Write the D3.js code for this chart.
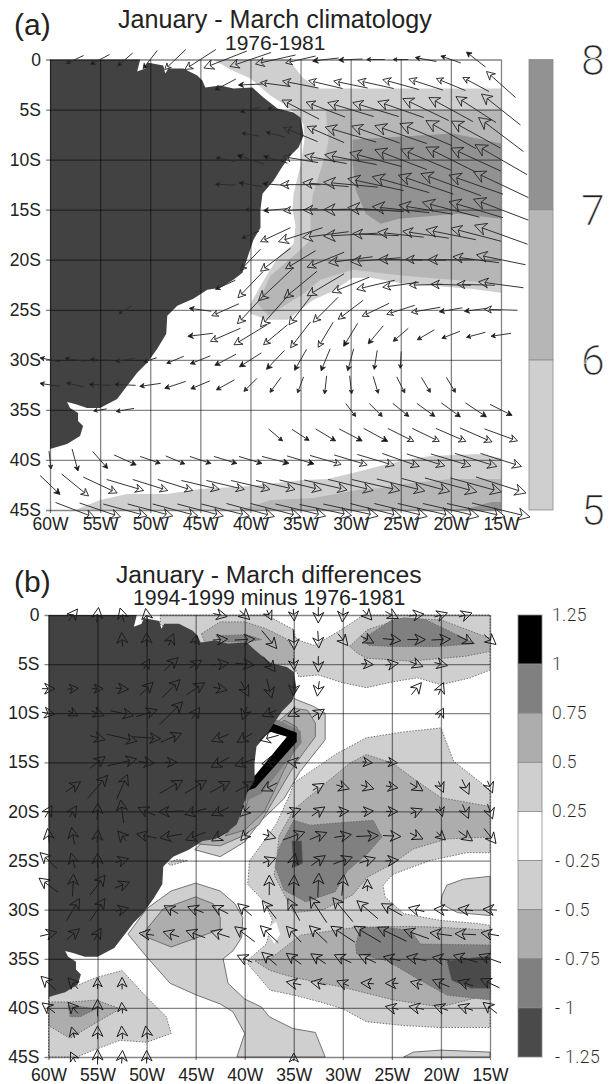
<!DOCTYPE html>
<html>
<head>
<meta charset="utf-8">
<script src="https://cdn.jsdelivr.net/npm/d3@7"></script>
<style>
  html, body { margin: 0; padding: 0; background: #fff; }
  svg { display: block; }
  text { font-family: "Liberation Sans", Arial, sans-serif; fill: #222; }
  .thin { font-family: Roboto, "Open Sans", sans-serif; font-weight: 300; fill: #222; stroke: #fff; }
</style>
</head>
<body>
<svg id="chart" width="614" height="1084"></svg>
<script>
// grid of the wind arrows
var windLats = [0, 2.5, 5, 7.5, 10, 12.5, 15, 17.5, 20, 22.5, 25, 27.5, 30, 32.5, 35, 37.5, 40, 42.5, 45];
var windLons = [60, 57.5, 55, 52.5, 50, 47.5, 45, 42.5, 40, 37.5, 35, 32.5, 30, 27.5, 25, 22.5, 20, 17.5, 15];
var tickLons = [60, 55, 50, 45, 40, 35, 30, 25, 20, 15];
var tickLats = [0, 5, 10, 15, 20, 25, 30, 35, 40, 45];

// one row per latitude, each arrow is [column, u, v]
var windA = [
  [[1,-17,-8],[2,-19,-10],[3,-15,-13],[4,-14,-18],[5,-21,-20],[6,-31,-20],[7,-43,-17],[8,-41,-14],[9,-40,-9],[10,-30,-7],[11,-26,-3],[12,-24,-1],[13,-18,0],[14,-15,0],[15,-21,4],[16,-20,7],[17,-19,15]],
  [[7,-21,-11],[8,-24,-1],[9,-30,4],[10,-36,7],[11,-34,8],[12,-34,7],[13,-36,8],[14,-36,10],[15,-34,11],[16,-29,12],[17,-26,14],[18,-29,26]],
  [[8,-20,-5],[9,-15,3],[10,-37,19],[11,-39,15],[12,-46,14],[13,-46,14],[14,-46,16],[15,-46,22],[16,-44,24],[17,-40,26],[18,-39,31]],
  [[8,-17,3],[9,-19,5],[10,-34,14],[11,-37,16],[12,-51,15],[13,-48,17],[14,-52,18],[15,-52,22],[16,-50,28],[17,-49,27],[18,-45,34]],
  [[7,-19,4],[8,-27,9],[9,-24,7],[10,-35,6],[11,-42,8],[12,-52,10],[13,-52,14],[14,-52,20],[15,-50,21],[16,-50,25],[17,-50,23],[18,-52,30]],
  [[7,-20,1],[8,-23,4],[9,-26,2],[10,-40,0],[11,-46,4],[12,-54,5],[13,-56,12],[14,-57,16],[15,-55,19],[16,-60,22],[17,-54,19],[18,-55,26]],
  [[8,-10,0],[9,-24,-2],[10,-34,-2],[11,-44,-1],[12,-54,0],[13,-56,4],[14,-57,6],[15,-54,9],[16,-57,15],[17,-54,16],[18,-55,21]],
  [[8,-17,-7],[9,-30,-14],[10,-44,-14],[11,-46,-6],[12,-54,-3],[13,-46,2],[14,-46,5],[15,-46,7],[16,-50,10],[17,-50,13],[18,-53,19]],
  [[8,-20,-21],[9,-30,-23],[10,-30,-18],[11,-37,-15],[12,-44,-6],[13,-50,-4],[14,-44,1],[15,-40,1],[16,-46,0],[17,-46,6],[18,-49,10]],
  [[7,-20,-9],[8,-25,-26],[9,-34,-32],[10,-33,-27],[11,-37,-22],[12,-37,-15],[13,-38,-9],[14,-36,-5],[15,-33,-1],[16,-40,1],[17,-38,1],[18,-45,6]],
  [[3,-13,-8],[6,-22,3],[7,-27,-12],[8,-26,-28],[9,-30,-34],[10,-23,-30],[11,-25,-25],[12,-25,-19],[13,-27,-13],[14,-28,-9],[15,-29,-5],[16,-23,-4],[17,-23,-3],[18,-33,1]],
  [[6,-25,-3],[7,-30,-13],[8,-33,-20],[9,-24,-20],[10,-20,-26],[11,-15,-25],[12,-14,-23],[13,-15,-18],[14,-15,-13],[15,-17,-10],[16,-18,-7],[17,-19,-5],[18,-20,-3]],
  [[0,-20,4],[1,-20,3],[2,-20,1],[3,-19,-3],[4,-13,-4],[5,-17,-7],[6,-20,-8],[7,-21,-11],[8,-22,-14],[9,-18,-19],[10,-12,-21],[11,-9,-22],[12,-6,-22],[13,-3,-19],[14,-1,-17]],
  [[0,-20,3],[1,-17,4],[2,-22,1],[3,-21,1],[4,-21,-3],[5,-21,-7],[6,-19,-8],[7,-18,-10],[8,-13,-13],[9,-11,-15],[10,-6,-16],[11,-2,-18],[12,2,-18],[13,5,-17],[14,8,-16],[15,9,-15],[16,9,-15]],
  [[2,-13,-2],[3,-18,-3],[12,10,-13],[13,13,-13],[14,16,-13],[15,18,-13],[16,19,-14],[17,21,-14],[18,22,-11]],
  [[9,14,-12],[10,17,-11],[11,20,-12],[12,23,-12],[13,24,-13],[14,26,-13],[15,27,-13],[16,30,-13],[17,32,-14],[18,33,-12]],
  [[0,2,-18],[1,6,-22],[2,15,-17],[3,22,-10],[4,20,-7],[5,19,-8],[6,21,-7],[7,23,-7],[8,23,-7],[9,27,-7],[10,27,-8],[11,31,-9],[12,33,-10],[13,37,-11],[14,37,-13],[15,38,-12],[16,40,-12],[17,42,-13],[18,41,-13]],
  [[0,20,-19],[1,27,-22],[2,34,-16],[3,37,-11],[4,35,-11],[5,35,-11],[6,38,-9],[7,38,-9],[8,39,-9],[9,39,-9],[10,42,-10],[11,43,-10],[12,45,-11],[13,48,-11],[14,48,-12],[15,48,-13],[16,52,-14],[17,51,-14],[18,50,-16]],
  [[1,39,-15],[2,41,-14],[3,44,-12],[4,45,-12],[5,45,-12],[6,46,-12],[7,48,-12],[8,48,-13],[9,50,-13],[10,50,-12],[11,52,-11],[12,55,-12],[13,51,-13],[14,53,-13],[15,56,-13],[16,56,-13],[17,58,-13],[18,58,-14]]
];

var windB = [
  [[1,9,12],[2,2,15],[3,-4,14],[4,-2,13],[7,14,-3],[8,10,-9],[9,5,-10],[10,1,-12],[11,0,-16],[12,-1,-14],[13,9,-10],[14,13,-7],[15,15,2],[16,13,4],[17,13,4]],
  [[3,-1,14],[4,0,14],[5,5,12],[6,2,9],[7,15,1],[8,20,1],[9,15,-18],[10,1,-20],[11,1,-17],[12,10,-12],[13,13,-7],[14,18,-2],[15,18,0],[16,19,1],[17,16,-8],[18,12,-10]],
  [[4,6,10],[5,14,13],[6,12,8],[7,17,2],[8,19,-2],[9,12,-15],[10,1,-12],[11,0,-16],[13,12,-1],[14,13,2],[15,13,-5],[16,13,-3]],
  [[0,13,0],[1,11,1],[2,11,0],[3,13,-1],[4,13,13],[5,18,18],[6,18,12],[7,14,-3],[8,8,-15],[9,5,-19],[10,-1,-14],[11,-2,-15],[15,10,12],[16,5,12]],
  [[0,13,-2],[1,10,-5],[2,13,-5],[3,23,-5],[4,21,7],[5,23,23],[6,8,12],[8,-5,-13],[9,-14,-6],[10,-12,-6],[11,12,8],[16,5,10]],
  [[2,15,-4],[3,30,-7],[4,28,-2],[5,21,9],[7,-17,-7],[8,-15,-9],[9,-19,-5]],
  [[2,15,12],[3,29,7],[4,16,-2],[5,12,0],[7,-18,-10],[8,-20,-7],[9,-15,-3],[10,-13,2],[13,10,-1],[14,11,-1]],
  [[1,15,10],[2,20,23],[3,11,25],[5,23,13],[6,22,13],[7,20,11],[8,19,10],[9,-16,-8],[11,11,7],[12,13,-4],[13,13,-4],[14,12,-2],[15,13,-8],[16,5,-11],[17,7,-15],[18,5,-12]],
  [[0,7,12],[1,7,11],[2,1,17],[3,-3,23],[4,-17,8],[5,-25,-1],[6,-22,-6],[7,-17,-8],[8,-10,-10],[10,14,5],[11,13,9],[12,12,1],[13,12,1],[14,12,0],[15,12,5],[16,3,-10],[17,6,-14],[18,5,-15]],
  [[0,-2,15],[1,-3,17],[2,1,13],[3,-9,10],[4,-20,4],[5,-22,-4],[6,-20,-8],[7,-17,-10],[8,-8,-9],[9,13,-4],[10,22,8],[11,17,7],[12,17,3],[13,22,1],[14,18,-1],[15,13,-6],[16,9,-8],[17,14,-10],[18,12,-15]],
  [[0,-17,16],[1,-4,15],[2,0,15],[3,13,4],[9,13,5],[10,3,14],[11,14,10],[12,19,7],[13,16,5],[14,13,1]],
  [[0,-19,14],[1,1,22],[2,15,20],[3,15,6],[9,0,20],[10,1,20],[11,1,24],[12,2,21],[13,0,12]],
  [[1,13,22],[2,15,22],[3,13,3],[5,-14,8],[6,-16,6],[7,-16,8],[8,-14,12],[9,-14,18],[10,-12,22],[11,-17,26],[12,-20,24],[13,-21,18],[14,-21,12],[15,-16,4],[16,-14,1],[17,-15,2],[18,-14,1]],
  [[0,17,4],[1,13,11],[2,7,12],[4,-15,2],[5,-16,5],[6,-19,7],[7,-19,6],[8,-20,15],[9,-18,17],[10,-15,16],[11,-18,17],[12,-24,16],[13,-27,16],[14,-29,14],[15,-25,9],[16,-22,3],[17,-21,1],[18,-18,3]],
  [[8,-15,7],[9,-15,13],[10,-15,11],[11,-15,10],[12,-17,8],[13,-17,8],[14,-17,4],[15,-20,4],[16,-17,3],[17,-24,7],[18,-22,8]],
  [[0,-15,14],[1,-10,11],[2,0,11],[3,0,12],[10,-15,3],[11,-15,3],[12,-12,5],[13,-13,1],[14,-13,0],[15,-12,3],[16,-17,7],[17,-15,5],[18,-19,9]],
  [[0,-13,10],[1,-10,11],[2,0,17],[3,-1,11],[14,-13,3],[15,-15,3],[16,-14,5],[17,-15,5],[18,-14,11]],
  [[1,-3,11],[2,0,13],[3,-1,13],[4,-2,13]],
  [[1,-5,10],[2,0,15],[3,1,13],[4,0,13],[10,0,8]]
];

// coastline, [degrees west, degrees south]
var land = [[60,0],[51,0],[51.3,1.2],[50.5,0.9],[50.3,0.3],[48.7,0.6],[48.5,1.4],[48.2,0.9],[46.7,0.9],[45.3,1.6],[44.8,2.1],[44.5,2.8],[43,2.6],[41.7,2.9],[39.8,2.8],[38.7,3.8],[37.3,4.9],[35.7,5.3],[35,5.8],[34.7,7.6],[35.2,8.8],[36.2,9.8],[37,11],[37.7,12.1],[38.8,13.4],[39,15],[39,16.8],[39.7,18],[40.5,20.4],[40.8,21.3],[41.7,22],[43,22.8],[44.3,23],[45.7,23.9],[47.3,24.6],[48.3,25.6],[48.4,27.4],[49.3,28.9],[50.3,30.3],[51.3,31.3],[52.3,32.6],[53.3,33.9],[55,34.8],[56.3,34.8],[57.5,34.4],[58.3,34.2],[58,34.8],[57.2,35.3],[57.2,36.1],[56.7,36.6],[57,37.6],[58.3,38.4],[60,38.9]];

// panel (a) contour areas, value band first
var shadesA = [
  [5, [[43.7,0],[36.2,0],[34.8,1.8],[33.3,2.9],[15,2.9],[15,23.3],[18,22.9],[24.7,22.4],[28,21.8],[29.8,21.8],[31.7,23.1],[33.7,24],[35,25],[36.3,26],[38.3,26],[40,25.4],[40,24.4],[38.7,22.1],[37.3,19.8],[35.7,18.4],[35.5,16.6],[35.8,15],[35.7,13.4],[35,10.6],[34.6,8],[34.7,6.6],[35,5.8],[36.5,4.6],[38,3.6],[40,1.9],[42,1]]],
  [6, [[33,5],[15,5],[15,22.4],[24.7,21.6],[29.8,21],[33,22],[34.7,23.4],[36.3,24.4],[38.2,25.6],[39.3,24.4],[38,21.6],[35,19],[34,18],[34,15.6],[33.8,13.6],[32.5,9.5],[32.2,8],[32.5,5]]],
  [7, [[29.8,8],[19.8,7.4],[15,8.4],[15,15.9],[19.3,15.4],[25.2,15.9],[27,16.4],[28.5,15.4],[29.5,13],[29.8,10.4]]],
  [5, [[57.5,45],[55,44],[52.3,43.4],[48.3,43.4],[45,42.9],[40,42.6],[34.7,42],[32.3,41.9],[29.8,41.3],[24.7,40],[22,39.6],[17.3,39.4],[15,39.8],[15,45]]],
  [6, [[41,45],[38,44],[33.7,43.8],[29.3,43],[27,42.8],[24.7,42.4],[20,41.9],[15,41.9],[15,45]]],
  [7, [[20,45],[18,44.8],[16,44.2],[15,44.2],[15,45]]]
];

// panel (b) contour areas: level, area
var shadesB = [
  [0.25, [[51.9,32.5],[50,29.9],[47.5,28.1],[45,27.3],[42.5,28.1],[41,29.4],[40.2,30.8],[40.3,32.8],[41.2,34.2],[42.2,35],[41.7,37.5],[40,39.1],[38.3,39.9],[37.5,40.9],[35.1,42.1],[32.8,42.5],[31.8,45],[40.8,45],[40,42.6],[41.2,40.4],[42.5,39.6],[44.9,38.7],[47.6,37.5],[50,34.8]]],
  [0.5, [[50.5,32.6],[48.3,29.9],[45,28.7],[43.2,29.4],[42.5,30.8],[42.5,32],[47.5,33.8]]],
  [0.25, [[23.8,45],[22.8,44.5],[20,44.3],[15,44.5],[15,45]]],
  [0.25, [[15,26.6],[17.7,26.9],[19.4,27.5],[19.9,28.6],[20,29.4],[18.3,30.3],[15,30.6]]],
  [0.25, [[35,8.5],[33,9.3],[31.8,10],[31.8,12.7],[33.3,14.6],[34.4,16],[36,18.7],[38.3,20.9],[40,23.1],[42.5,24.6],[45.1,23.9],[42,21],[38,12],[36,9]]],
  [0.5, [[35,9.5],[33.6,9.7],[32.8,11],[32.8,12.4],[34,14],[35,15.4],[38.5,21.3],[40.2,22.5],[42.5,23.5],[44.9,23.3],[41,20],[38,12]]],
  [0.75, [[36,10.7],[34.7,11.4],[34.3,12.4],[34.9,13.7],[36,15.8],[36.6,17.1],[38,20],[40,21.9],[42,22.5],[40,20],[38,13]]],
  [1, [[38,10.8],[36.6,10.7],[34.3,11.8],[34.2,13],[38.3,18.2],[40,19],[41,15]]],
  [1.25, [[37.3,11],[34.7,12],[34.7,12.9],[38.9,17.6],[40,18],[40,13],[38,11.5]]],
  [1.5, [[38.1,12.2],[37.3,11.9],[35.7,12.4],[39,16.4],[39.5,14],[38.5,12.5]]]
];

var dottedB = [
  [-0.25, [[48.6,0],[37.8,0],[35,1.5],[34.5,3.6],[34.3,5],[35,6],[40,5],[46,2],[48.6,1]]],
  [-0.5, [[44.4,1.9],[42.5,0.7],[40,0.7],[37.8,1.4],[35.8,2.4],[34.9,3.6],[34.9,5],[38,5],[44,3]]],
  [-0.75, [[42.9,2.1],[39.8,2],[38.3,2.5],[40,2.8],[42.5,2.7]]],
  [-0.25, [[35,2.2],[34.4,2.6],[32.9,3.1],[31.7,2.4],[30,1.4],[28.2,0.2],[27.2,0],[15,0],[15,5.6],[17,6.4],[20,7.1],[22.4,6.4],[24.9,6.8],[27.6,7.4],[30,6.9],[32.5,6.1],[34.5,6.3],[35,5]]],
  [-0.5, [[29.3,3.2],[27.5,1.5],[23.8,0.3],[20,0.5],[17.3,1.5],[15,2.4],[15,3.7],[17.5,4.2],[19.8,4.4],[23.2,4.7],[27.6,4.4],[28.5,3.9]]],
  [-0.75, [[27.9,2.4],[25,0.5],[23.8,0.3],[21.5,0.5],[18,2.2],[16.5,2.9],[20,3.2],[24.9,3.2],[27.4,3.1]]],
  [-0.25, [[35,17.1],[30.6,14.1],[27.6,12.5],[23.8,11.9],[20,11.5],[18.7,14.9],[15,17.8],[15,24.2],[17.4,24.2],[21.1,25],[24.9,26.4],[25.9,27.5],[25.7,28.7],[23.8,30.4],[20,31.1],[16.3,31.4],[15,31.6],[15,42],[20.1,42],[23.8,41.8],[27.6,41.4],[30,40.1],[32.3,39.4],[35,38.7],[37.4,38.2],[39.7,35.5],[39.5,35],[37.8,33.5],[37.2,31],[38.1,29.1],[39.7,27.4],[39.5,25],[38.1,23.1],[36.8,21.3],[35.5,18.5]]],
  [0, [[37.8,32],[36.8,31.2],[36.4,32.5],[37,33.5]]],
  [-0.5, [[35,19.8],[29.3,15.1],[27.6,14.2],[24.9,15.1],[22.6,16.8],[20,18.6],[15,19.5],[15,22.6],[19.4,22.8],[22.8,23.8],[24.9,25.3],[27.5,26.7],[29,28.5],[32,30],[35,30.3],[37,26.5],[36.8,25.2],[36.5,22.5]]],
  [-0.5, [[37.4,35],[34.3,32.6],[28.7,31.8],[23.1,31.7],[20,31.8],[15,32.1],[15,38.6],[20,39.9],[24.8,39.2],[30,37.9],[35,36.9],[37.4,36.2],[39,35.2]]],
  [-0.75, [[28.7,33.6],[28.2,31.8],[25.8,31.8],[23.1,32.1],[22.1,33.5],[15,33.6],[15,39.2],[19.4,38.7],[22.1,37.2],[25.5,35.2],[28.6,34.5]]],
  [-1, [[19.4,35.2],[15,34.7],[15,38],[17,38],[18.9,37.2]]],
  [-0.75, [[35,20.9],[33.3,21.4],[30.9,21.2],[26.9,20.9],[26,22.6],[27.5,24.3],[29.5,26],[30.8,28.2],[33.8,29.2],[36,28],[36.9,25.6],[36.5,23.7]]],
  [-1, [[35.2,23],[34.2,23],[34.1,25.3],[35,25.7]]],
  [-0.25, [[60,38.9],[55.1,36.9],[52.5,36.2],[50,38.9],[48,40.9],[47.5,42.6],[50,43.5],[52.7,43.3],[55.4,44.3],[57.1,45],[60,45]]],
  [-0.5, [[60,39.4],[57.8,39.4],[55.1,39.2],[52.7,40.1],[54.8,41.3],[57.8,43.1],[60,41.8]]],
  [-0.75, [[58,39.7],[55.1,40.1],[56.8,40.9],[57.8,40.9]]],
  [-0.25, [[47.8,25.3],[47,24.9],[45.8,25],[47.6,25.5]]]
];

var levelsA = [5, 6, 7, 8];
var bandColorsA = ['#cfcfcf', '#b6b6b6', '#929292'];
var levelLabelsB = ['1.25', '1', '0.75', '0.5', '0.25', '- 0.25', '- 0.5', '- 0.75', '- 1', '- 1.25'];
var bandColorsB = ['#000000', '#808080', '#adadad', '#cfcfcf', '#ffffff', '#cfcfcf', '#adadad', '#808080', '#4a4a4a'];

var shadeForB = d3.scaleOrdinal()
  .domain([1.5, 1.25, 1, 0.75, 0.5, 0.25, 0, -0.25, -0.5, -0.75, -1])
  .range(['#ffffff', '#000000', '#808080', '#9a9a9a', '#adadad', '#cfcfcf', '#ffffff', '#cfcfcf', '#adadad', '#808080', '#4a4a4a']);
var shadeForA = d3.scaleOrdinal().domain([5, 6, 7]).range(bandColorsA);

var svg = d3.select('#chart');

function drawArea(g, pts, fill, stroke, dash, x, y) {
  var line = d3.line().x(function (d) { return x(d[0]); }).y(function (d) { return y(d[1]); }).curve(d3.curveLinearClosed);
  g.append('path')
    .attr('d', line(pts))
    .attr('fill', fill)
    .attr('stroke', stroke)
    .attr('stroke-width', stroke === 'none' ? 0 : 0.9)
    .attr('stroke-dasharray', dash);
}

function drawGrid(g, x, y, labelPad) {
  // the axis ticks run across the panel as the grid lines
  var left = x.range()[0], right = x.range()[1];
  var top = y.range()[0], bottom = y.range()[1];
  var ax = g.append('g').attr('transform', 'translate(0,' + (bottom + 3) + ')')
    .call(d3.axisBottom(x).tickValues(tickLons)
      .tickFormat(function (d) { return d + 'W'; })
      .tickSize(-(bottom - top + 3)).tickSizeOuter(0).tickPadding(labelPad));
  var ay = g.append('g').attr('transform', 'translate(' + (left - 4) + ',0)')
    .call(d3.axisLeft(y).tickValues(tickLats)
      .tickFormat(function (d) { return d === 0 ? '0' : d + 'S'; })
      .tickSize(-(right - left + 4)).tickSizeOuter(0).tickPadding(5));
  [ax, ay].forEach(function (a) {
    a.select('.domain').remove();
    a.selectAll('line').attr('stroke', '#000').attr('stroke-opacity', 0.48).attr('stroke-width', 1.3);
    a.selectAll('text').attr('font-size', 17.5).attr('fill', '#222');
  });
}

function drawArrows(g, wind, x, y, headFn, color, sw) {
  wind.forEach(function (row, r) {
    row.forEach(function (w) {
      var cx = x(windLons[w[0]]), cy = y(windLats[r]);
      var u = w[1], v = -w[2];
      var len = Math.sqrt(u * u + v * v) || 1;
      var ux = u / len, uy = v / len;
      var tipx = cx + u / 2, tipy = cy + v / 2;
      var h = headFn(len);
      var hw = h * 0.52;
      var bx = tipx - ux * h, by = tipy - uy * h;
      var nx = tipx - ux * h * 0.68, ny = tipy - uy * h * 0.68;
      g.append('line')
        .attr('x1', cx - u / 2).attr('y1', cy - v / 2)
        .attr('x2', nx).attr('y2', ny)
        .attr('stroke', color).attr('stroke-width', sw);
      g.append('path')
        .attr('d', 'M' + tipx + ' ' + tipy + 'L' + (bx - uy * hw) + ' ' + (by + ux * hw) +
          'L' + nx + ' ' + ny + 'L' + (bx + uy * hw) + ' ' + (by - ux * hw) + 'Z')
        .attr('fill', h < 6 ? '#111' : 'none')
        .attr('stroke', color).attr('stroke-width', sw);
    });
  });
}

// ---- panel (a)
var xA = d3.scaleLinear().domain([60, 15]).range([50, 501]);
var yA = d3.scaleLinear().domain([0, 45]).range([59.5, 510]);
var pa = svg.append('g');
shadesA.forEach(function (s) { drawArea(pa, s[1], shadeForA(s[0]), 'none', null, xA, yA); });
drawArea(pa, land, '#424242', 'none', null, xA, yA);
drawGrid(pa, xA, yA, 5);
drawArrows(pa, windA, xA, yA, function (len) { return Math.max(3.5, Math.min(12, len * 0.21)); }, '#2a2a2a', 0.95);

// ---- panel (b)
var xB = d3.scaleLinear().domain([60, 15]).range([48.5, 490]);
var yB = d3.scaleLinear().domain([0, 45]).range([615, 1057]);
var pb = svg.append('g');
shadesB.forEach(function (s) {
  drawArea(pb, s[1], shadeForB(s[0]), s[0] >= 1 ? 'none' : '#666', null, xB, yB);
});
dottedB.forEach(function (s) {
  drawArea(pb, s[1], shadeForB(s[0]), s[0] === 0 ? 'none' : '#666', '1.5,1.5', xB, yB);
});
drawArea(pb, land, '#424242', 'none', null, xB, yB);
drawGrid(pb, xB, yB, 9);
drawArrows(pb, windB, xB, yB, function (len) { return Math.min(10.5, Math.max(9, len * 0.8)); }, '#1c1c1c', 1);

// ---- legend (a)
var legA = d3.scaleLinear().domain([5, 8]).range([510, 59.5]);
bandColorsA.forEach(function (c, i) {
  svg.append('rect').attr('x', 529).attr('width', 24)
    .attr('y', legA(levelsA[i + 1])).attr('height', legA(levelsA[i]) - legA(levelsA[i + 1]))
    .attr('fill', c).attr('stroke', '#8a8a8a').attr('stroke-width', 0.8);
});
svg.selectAll('.la').data(levelsA).enter().append('text')
  .attr('class', 'thin')
  .attr('x', 593).attr('y', function (d) { return legA(d) + 15; })
  .attr('text-anchor', 'middle').attr('font-size', 42).attr('stroke-width', 0.45)
  .text(function (d) { return d; });

// ---- legend (b)
var legB = d3.scalePoint().domain(levelLabelsB).range([615, 1057]);
bandColorsB.forEach(function (c, i) {
  svg.append('rect').attr('x', 518).attr('width', 24)
    .attr('y', legB(levelLabelsB[i])).attr('height', legB(levelLabelsB[i + 1]) - legB(levelLabelsB[i]))
    .attr('fill', c).attr('stroke', '#8a8a8a').attr('stroke-width', 0.8);
});
svg.selectAll('.lb').data(levelLabelsB).enter().append('text')
  .attr('class', 'thin')
  .attr('x', function (d) { return d.charAt(0) === '-' ? 555 : 552; })
  .attr('y', function (d) { return legB(d) + 6; })
  .attr('font-size', 17.5).attr('letter-spacing', 0.4).attr('stroke-width', 0.1)
  .text(function (d) { return d; });

// ---- titles
function title(t, x, y, size) {
  svg.append('text').attr('x', x).attr('y', y).attr('font-size', size).text(t);
}
title('(a)', 14, 35, 30);
title('January - March climatology', 118, 28, 25.1);
title('1976-1981', 225, 50, 21);
title('(b)', 14, 592, 30);
title('January - March differences', 116, 583, 24.7);
title('1994-1999 minus 1976-1981', 133, 605, 21.3);
</script>
</body>
</html>
